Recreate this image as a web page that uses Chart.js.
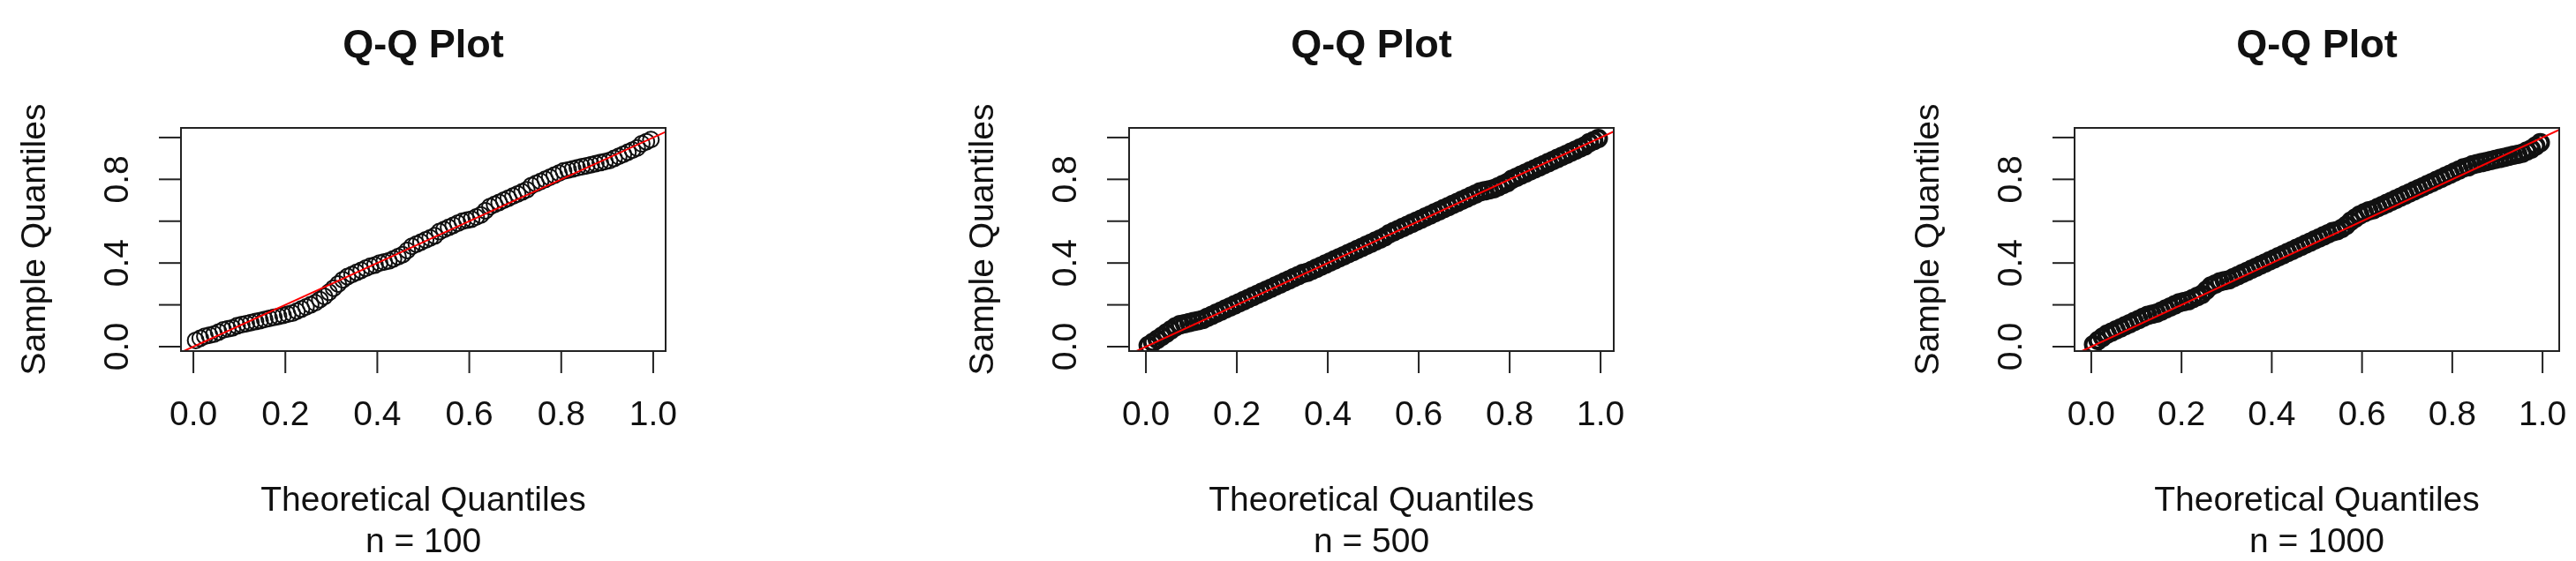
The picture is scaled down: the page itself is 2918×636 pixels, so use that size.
<!DOCTYPE html>
<html>
<head>
  <title>Q-Q Plots</title>
  <style>
    body { margin: 0; background: white; }
    canvas { position: absolute; top: 0; }
  </style>
</head>
<body>
  <canvas id="c1" width="973" height="636" style="left:0px"></canvas>
  <canvas id="c2" width="973" height="636" style="left:973px"></canvas>
  <canvas id="c3" width="972" height="636" style="left:1946px"></canvas>
  <script src="https://cdn.jsdelivr.net/npm/chart.js"></script>
  <script>
    // theoretical quantiles (shared grid of 100 positions)
    const theoretical = [
      0.005,0.015,0.025,0.035,0.045,0.055,0.065,0.075,0.085,0.095,
      0.105,0.115,0.125,0.135,0.145,0.155,0.165,0.175,0.185,0.195,
      0.205,0.215,0.225,0.235,0.245,0.255,0.265,0.275,0.285,0.295,
      0.305,0.315,0.325,0.335,0.345,0.355,0.365,0.375,0.385,0.395,
      0.405,0.415,0.425,0.435,0.445,0.455,0.465,0.475,0.485,0.495,
      0.505,0.515,0.525,0.535,0.545,0.555,0.565,0.575,0.585,0.595,
      0.605,0.615,0.625,0.635,0.645,0.655,0.665,0.675,0.685,0.695,
      0.705,0.715,0.725,0.735,0.745,0.755,0.765,0.775,0.785,0.795,
      0.805,0.815,0.825,0.835,0.845,0.855,0.865,0.875,0.885,0.895,
      0.905,0.915,0.925,0.935,0.945,0.955,0.965,0.975,0.985,0.995
    ];

    // sample quantiles
    const sample100 = [
      0.03,0.04,0.05,0.055,0.06,0.07,0.08,0.085,0.09,0.10,
      0.105,0.11,0.115,0.12,0.125,0.13,0.135,0.14,0.145,0.15,
      0.155,0.16,0.17,0.18,0.19,0.20,0.21,0.225,0.24,0.26,
      0.28,0.30,0.32,0.335,0.345,0.355,0.365,0.375,0.385,0.39,
      0.40,0.405,0.41,0.42,0.43,0.44,0.46,0.48,0.49,0.50,
      0.51,0.52,0.53,0.55,0.56,0.57,0.58,0.59,0.60,0.605,
      0.61,0.62,0.63,0.65,0.67,0.68,0.69,0.70,0.71,0.72,
      0.73,0.74,0.75,0.77,0.78,0.79,0.80,0.81,0.82,0.83,
      0.84,0.845,0.85,0.855,0.86,0.865,0.87,0.875,0.88,0.885,
      0.89,0.90,0.91,0.92,0.93,0.94,0.95,0.97,0.98,0.99
    ];
    const sample500 = [
      0.005,0.02,0.035,0.05,0.065,0.08,0.095,0.105,0.11,0.115,
      0.12,0.125,0.13,0.14,0.15,0.16,0.17,0.18,0.19,0.20,
      0.21,0.22,0.23,0.24,0.25,0.26,0.27,0.28,0.29,0.30,
      0.31,0.32,0.33,0.34,0.35,0.355,0.365,0.375,0.385,0.395,
      0.405,0.415,0.425,0.435,0.445,0.455,0.465,0.475,0.485,0.495,
      0.505,0.515,0.525,0.54,0.55,0.56,0.57,0.58,0.59,0.60,
      0.61,0.62,0.63,0.64,0.65,0.66,0.67,0.68,0.69,0.70,
      0.71,0.72,0.73,0.74,0.745,0.75,0.755,0.765,0.775,0.785,
      0.80,0.81,0.82,0.83,0.84,0.85,0.86,0.87,0.88,0.89,
      0.90,0.91,0.92,0.93,0.94,0.95,0.96,0.975,0.985,0.995
    ];
    const sample1000 = [
      0.01,0.03,0.045,0.06,0.07,0.08,0.09,0.10,0.11,0.12,
      0.13,0.14,0.15,0.155,0.16,0.17,0.18,0.19,0.20,0.21,
      0.215,0.22,0.23,0.24,0.25,0.27,0.29,0.30,0.31,0.315,
      0.32,0.33,0.34,0.35,0.36,0.37,0.38,0.39,0.40,0.41,
      0.42,0.43,0.44,0.45,0.46,0.47,0.48,0.49,0.50,0.51,
      0.52,0.53,0.54,0.55,0.555,0.565,0.58,0.60,0.615,0.63,
      0.64,0.65,0.655,0.665,0.675,0.685,0.695,0.705,0.715,0.725,
      0.735,0.745,0.755,0.765,0.775,0.785,0.795,0.805,0.815,0.825,
      0.835,0.845,0.855,0.86,0.87,0.875,0.88,0.885,0.89,0.895,
      0.90,0.905,0.91,0.915,0.92,0.925,0.935,0.945,0.96,0.975
    ];

    const tickValues = [0, 0.2, 0.4, 0.6, 0.8, 1.0];
    const xTickLabels = ['0.0', '0.2', '0.4', '0.6', '0.8', '1.0'];
    const yTickLabels = ['0.0', '', '0.4', '', '0.8', ''];
    const subtitles = ['n = 100', 'n = 500', 'n = 1000'];

    const FONT = '"Liberation Sans", Arial, sans-serif';

    // draws the R-style frame, ticks and labels
    const rAxes = {
      id: 'rAxes',
      afterDraw(chart, args, opts) {
        const c = chart.ctx;
        const a = chart.chartArea;
        const sx = chart.scales.x, sy = chart.scales.y;
        c.save();
        c.strokeStyle = '#222';
        c.lineWidth = 2;
        c.strokeRect(a.left, a.top, a.right - a.left, a.bottom - a.top);
        c.fillStyle = '#111';
        c.font = '39px ' + FONT;
        c.textAlign = 'center';
        c.textBaseline = 'middle';
        tickValues.forEach((v, i) => {
          const px = sx.getPixelForValue(v);
          c.beginPath(); c.moveTo(px, a.bottom); c.lineTo(px, a.bottom + 25); c.stroke();
          c.fillText(xTickLabels[i], px, 471);
          const py = sy.getPixelForValue(v);
          c.beginPath(); c.moveTo(a.left - 25, py); c.lineTo(a.left, py); c.stroke();
          if (yTickLabels[i]) {
            c.save();
            c.translate(a.left - 71, py);
            c.rotate(-Math.PI / 2);
            c.fillText(yTickLabels[i], 0, 0);
            c.restore();
          }
        });
        const cx = (a.left + a.right) / 2;
        c.fillText('Theoretical Quantiles', cx, 568);
        c.fillText(opts.sub, cx, 615);
        c.save();
        c.translate(a.left - 165, (a.top + a.bottom) / 2);
        c.rotate(-Math.PI / 2);
        c.fillText('Sample Quantiles', 0, 0);
        c.restore();
        c.font = 'bold 45px ' + FONT;
        c.fillText('Q-Q Plot', cx, 53);
        c.restore();
      }
    };

    function makeChart(id, sample, sub, pad, xmin, xmax, border) {
      const pts = theoretical.map((t, i) => ({ x: t, y: sample[i] }));
      return new Chart(document.getElementById(id), {
        type: 'scatter',
        data: {
          datasets: [
            {
              data: pts,
              pointRadius: 9,
              pointBorderWidth: border,
              pointBorderColor: '#111',
              pointBackgroundColor: 'rgba(0,0,0,0)',
              order: 2
            },
            {
              type: 'line',
              data: [{ x: -0.1, y: -0.1 }, { x: 1.1, y: 1.1 }],
              borderColor: '#ff0000',
              borderWidth: 2,
              pointRadius: 0,
              order: 1
            }
          ]
        },
        options: {
          responsive: false,
          animation: false,
          layout: { padding: pad },
          plugins: { legend: { display: false }, tooltip: { enabled: false }, rAxes: { sub: sub } },
          scales: {
            x: { type: 'linear', min: xmin, max: xmax, display: false },
            y: { type: 'linear', min: -0.021, max: 1.046, display: false }
          }
        },
        plugins: [rAxes]
      });
    }

    makeChart('c1', sample100, subtitles[0], { left: 205, right: 219, top: 145, bottom: 238 }, -0.027, 1.027, 2);
    makeChart('c2', sample500, subtitles[1], { left: 306, right: 118, top: 145, bottom: 238 }, -0.037, 1.029, 4);
    makeChart('c3', sample1000, subtitles[2], { left: 404, right: 19, top: 145, bottom: 238 }, -0.037, 1.037, 4);
  </script>
</body>
</html>
